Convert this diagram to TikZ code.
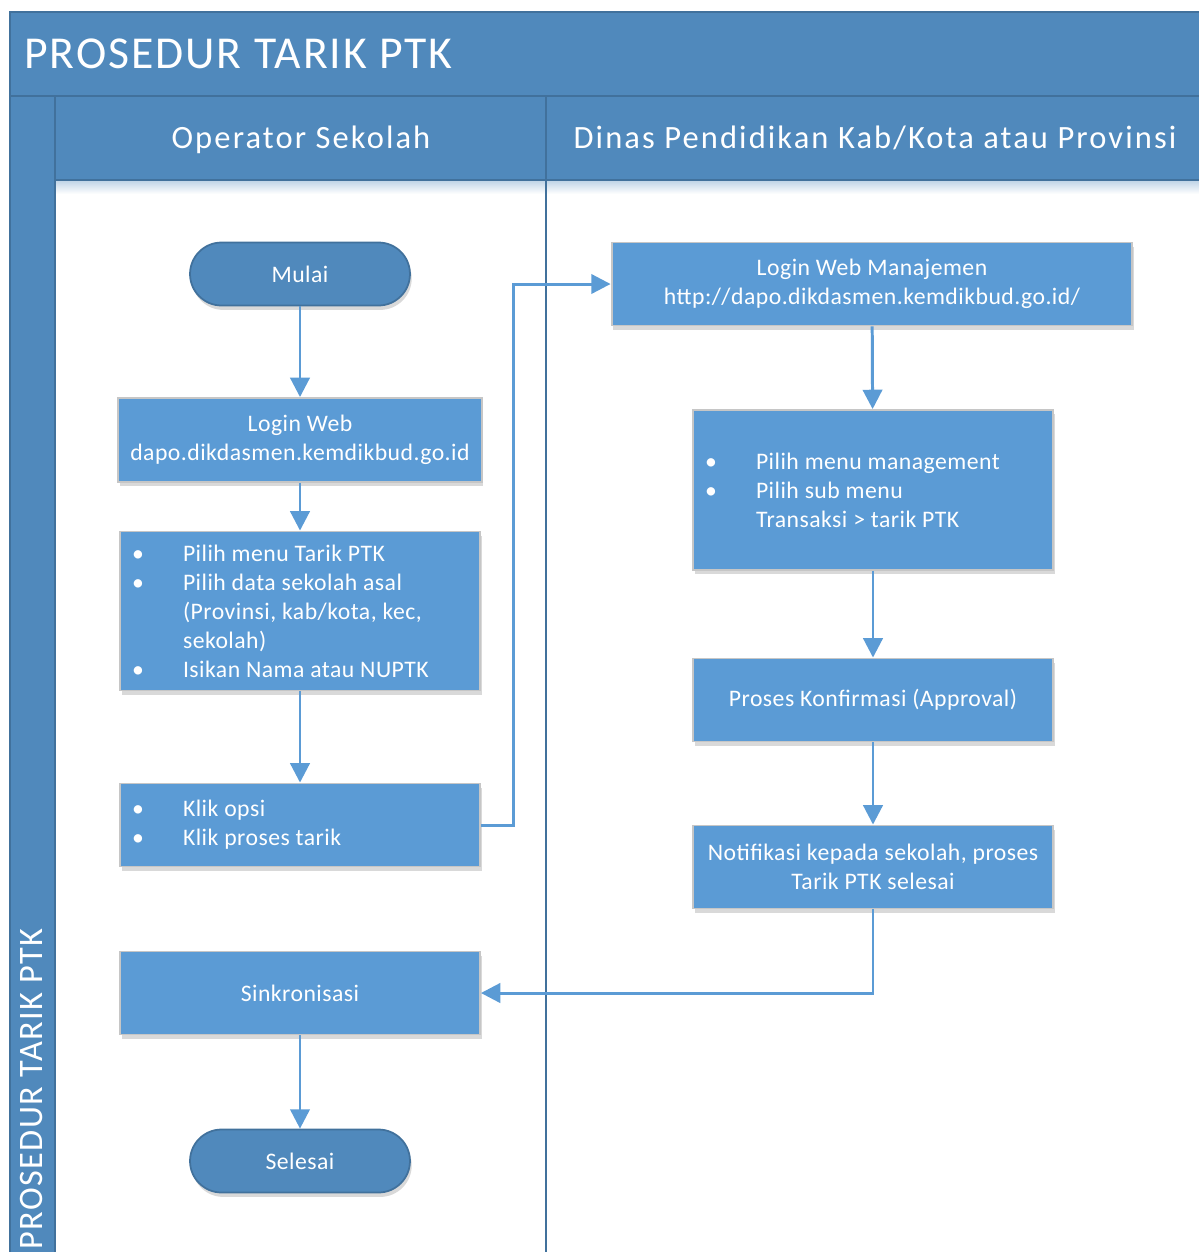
\documentclass[tikz,border=0pt]{standalone}
\usepackage{fontspec}
\setmainfont[LetterSpace=2]{Carlito}
\newfontfamily\hdrfont[LetterSpace=6.5]{Carlito}
\newfontfamily\ttlfont[LetterSpace=4.3]{Carlito}
\usetikzlibrary{arrows.meta,shadows,positioning}

\definecolor{hdrblue}{HTML}{5089BC}
\definecolor{hdrline}{HTML}{41719C}
\definecolor{boxblue}{HTML}{5B9BD5}
\definecolor{boxline}{HTML}{C6C6C6}

\newcommand{\blt}{\makebox[1.02cm][l]{\textbullet}}
\newcommand{\ind}{\hspace*{1.02cm}}

\tikzset{
  every node/.style={text=white},
  procbox/.style={rectangle, fill=boxblue, draw=boxline, line width=1.1pt,
    minimum width=7.2cm, minimum height=1.66cm, inner xsep=0.24cm,
    font=\fontsize{13.5}{16.5}\selectfont, align=flush center,
    drop shadow={shadow xshift=1pt, shadow yshift=-2.5pt, opacity=0.15, fill=black}},
  listbox/.style={procbox, align=flush left, text width=6.72cm},
  termbox/.style={rectangle, rounded corners=0.63cm, fill=hdrblue, draw=hdrline, line width=1pt,
    minimum width=4.4cm, minimum height=1.26cm,
    font=\fontsize{13.5}{16.5}\selectfont,
    drop shadow={shadow xshift=1pt, shadow yshift=-2.5pt, opacity=0.15, fill=black}},
  flow/.style={draw=boxblue, line width=1.7pt, -{Triangle[width=11pt, length=11pt]}},
  lane/.style={draw=hdrline, line width=1.1pt}
}

\begin{document}
\begin{tikzpicture}[x=0.02cm, y=-0.02cm]
                \useasboundingbox (0,0) rectangle (1199,1252);
                \clip (0,0) rectangle (1199,1252);

                % pool and lanes
                \draw [lane, fill=hdrblue] (10,12) rectangle (1210,96);
                \draw [lane, fill=hdrblue] (10,96) rectangle (55,1262);
                \draw [lane, fill=hdrblue] (55,96) rectangle (546,180);
                \draw [lane, fill=hdrblue] (546,96) rectangle (1210,180);
                \shade [top color=hdrblue!35, bottom color=white] (56,181) rectangle (1199,194);
                \draw [lane] (55,180) rectangle (546,1262);
                \draw [lane] (546,180) rectangle (1210,1262);

                \node [anchor=west, inner sep=0, font=\ttlfont\fontsize{26}{30}\selectfont] (title) at (24,54) {PROSEDUR TARIK PTK};
                \node [rotate=90, anchor=base west, inner sep=0, font=\ttlfont\fontsize{19.5}{22}\selectfont] (pooltitle) at (42,1250) {PROSEDUR TARIK PTK};
                \node [anchor=base, font=\hdrfont\fontsize{18.5}{22}\selectfont] (lane1) at (301,148) {Operator Sekolah};
                \node [anchor=base, font=\hdrfont\fontsize{18.5}{22}\selectfont] (lane2) at (875,148) {Dinas Pendidikan Kab/Kota atau Provinsi};

                % operator sekolah
                \node [termbox] (mulai) at (300,274) {Mulai};
                \node [procbox, minimum height=1.68cm] (loginweb) at (300,440) {Login Web\\dapo.dikdasmen.kemdikbud.go.id};
                \node [listbox, minimum height=3.18cm] (pilih) at (300,611) {\blt Pilih menu Tarik PTK\\\blt Pilih data sekolah asal\\\ind(Provinsi, kab/kota, kec,\\\ind sekolah)\\\blt Isikan Nama atau NUPTK};
                \node [listbox] (klik) at (300,825) {\blt Klik opsi\\\blt Klik proses tarik};
                \node [procbox] (sinkron) at (300,993) {Sinkronisasi};
                \node [termbox] (selesai) at (300,1161) {Selesai};

                % dinas pendidikan
                \node [procbox, minimum width=10.42cm] (loginm) at (872,284) {Login Web Manajemen\\http://dapo.dikdasmen.kemdikbud.go.id/};
                \node [listbox, minimum height=3.2cm] (pilihm) at (873,490) {\blt Pilih menu management\\\blt Pilih sub menu\\\ind Transaksi > tarik PTK};
                \node [procbox] (proses) at (873,700) {Proses Konfirmasi (Approval)};
                \node [procbox] (notif) at (873,867) {Notifikasi kepada sekolah, proses\\Tarik PTK selesai};

                \draw [flow] (mulai) -- (loginweb);
                \draw [flow] (loginweb) -- (pilih);
                \draw [flow] (pilih) -- (klik);
                \draw [flow] (klik.east) -- ++(33,0) |- (loginm.west);
                \draw [flow] (loginm) -- (pilihm);
                \draw [flow] (pilihm) -- (proses);
                \draw [flow] (proses) -- (notif);
                \draw [flow] (notif.south) |- (sinkron.east);
                \draw [flow] (sinkron) -- (selesai);
            \end{tikzpicture}
\end{document}
